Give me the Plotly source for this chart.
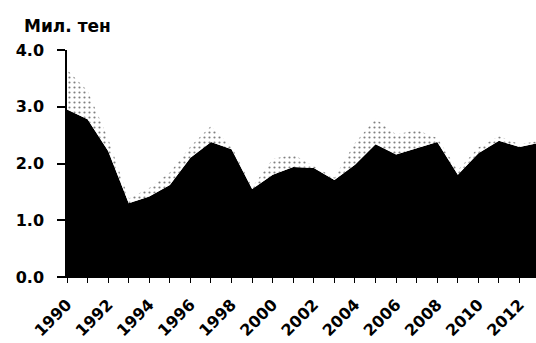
import plotly.graph_objects as go

years = list(range(1990, 2014))
base_values = [2.95, 2.78, 2.22, 1.30, 1.42, 1.62, 2.10, 2.38, 2.25, 1.55, 1.80, 1.94,
               1.92, 1.71, 1.98, 2.34, 2.16, 2.27, 2.38, 1.80, 2.18, 2.40, 2.29, 2.37]
upper_values = [0.70, 0.50, 0.22, 0.08, 0.15, 0.22, 0.20, 0.28, 0.05, 0.03, 0.28, 0.22,
                0.03, 0.04, 0.38, 0.45, 0.35, 0.32, 0.07, 0.08, 0.10, 0.08, 0.05, 0.03]
tick_years = list(range(1990, 2014))
tick_labels = ["1990", "", "1992", "", "1994", "", "1996", "", "1998", "", "2000", "",
               "2002", "", "2004", "", "2006", "", "2008", "", "2010", "", "2012", ""]
y_ticks = [0, 1, 2, 3, 4]
y_labels = ["0.0", "1.0", "2.0", "3.0", "4.0"]
y_title = "Мил. тен"

FONT = "DejaVu Sans"

fig = go.Figure()
fig.add_trace(go.Scatter(
    x=years, y=base_values, stackgroup="s", mode="none",
    fillcolor="#000000", line=dict(width=0), hoverinfo="skip"))
fig.add_trace(go.Scatter(
    x=years, y=upper_values, stackgroup="s", mode="none",
    fillcolor="rgba(0,0,0,0)",
    fillpattern=dict(shape=".", fgcolor="#000000", bgcolor="#ffffff", size=5, solidity=0.15),
    line=dict(width=0), hoverinfo="skip"))

fig.update_layout(
    width=536, height=343,
    margin=dict(l=67, r=0, t=50, b=66),
    paper_bgcolor="white", plot_bgcolor="white",
    showlegend=False,
    font=dict(family=FONT, size=16, color="black", weight="bold"),
    annotations=[dict(text=y_title, xref="paper", yref="paper",
                      x=-0.097, y=1.105, xanchor="left", yanchor="middle",
                      showarrow=False, font=dict(family=FONT, size=17, weight="bold"))],
)
fig.update_xaxes(
    range=[1990, 2012.8], tickmode="array", tickvals=tick_years, ticktext=tick_labels,
    tickangle=-45, ticks="outside", ticklen=5, tickwidth=1, tickcolor="black",
    showline=True, linecolor="black", linewidth=1, showgrid=False, zeroline=False,
    automargin=False, ticklabelstandoff=6,
    tickfont=dict(family=FONT, size=16, weight="bold"))
fig.update_yaxes(
    range=[0, 4], tickmode="array", tickvals=y_ticks, ticktext=y_labels,
    ticks="outside", ticklen=8, tickwidth=1.5, tickcolor="black",
    showline=True, linecolor="black", linewidth=1.5, showgrid=False, zeroline=False,
    automargin=False, ticklabelstandoff=10,
    tickfont=dict(family=FONT, size=16, weight="bold"))

fig.write_html("out.html", config={"displayModeBar": False},
               post_script="document.body.style.margin='0';document.body.style.overflow='hidden';")
